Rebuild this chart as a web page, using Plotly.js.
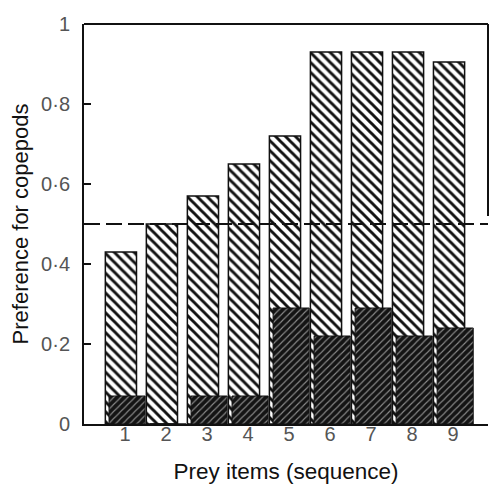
<!DOCTYPE html>
<html>
<head>
<meta charset="utf-8">
<script src="https://cdn.plot.ly/plotly-3.0.1.min.js"></script>
<style>html,body{margin:0;padding:0;background:#fff}#chart{width:491px;height:484px}</style>
</head>
<body>
<div id="chart"></div>
<script>
// Data
const preyItems = [1, 2, 3, 4, 5, 6, 7, 8, 9];
const tickLabels = ['1', '2', '3', '4', '5', '6', '7', '8', '9'];
const preferenceAll = [0.43, 0.50, 0.57, 0.65, 0.72, 0.93, 0.93, 0.93, 0.905];
const preferenceDark = [0.07, 0, 0.07, 0.07, 0.29, 0.22, 0.29, 0.22, 0.24];
const yTickVals = [0, 0.2, 0.4, 0.6, 0.8, 1];
const yTickText = ['0', '0·2', '0·4', '0·6', '0·8', '1'];
const chanceLevel = 0.5;

const font = 'Liberation Sans, Arial, Helvetica, sans-serif';

const traces = [
  {
    type: 'bar', x: preyItems, y: preferenceAll,
    width: 0.76, offset: -0.48,
    marker: {
      color: '#fff',
      line: {color: '#111', width: 1.5},
      pattern: {shape: '\\', fgcolor: '#111', bgcolor: '#fff', size: 7, solidity: 0.42}
    },
    hoverinfo: 'skip'
  },
  {
    type: 'bar', x: preyItems, y: preferenceDark,
    width: 0.88, offset: -0.39,
    marker: {
      color: '#111',
      line: {color: '#111', width: 1},
      pattern: {shape: '/', fgcolor: '#8a8a8a', bgcolor: '#141414', size: 5, solidity: 0.22}
    },
    hoverinfo: 'skip'
  }
];

const layout = {
  width: 491, height: 484,
  margin: {l: 84, r: 3, t: 24, b: 60},
  paper_bgcolor: '#fff', plot_bgcolor: '#fff',
  barmode: 'overlay',
  showlegend: false,
  font: {family: font, color: '#111'},
  xaxis: {
    range: [0, 9.85],
    tickvals: preyItems, ticktext: tickLabels,
    ticks: '', showgrid: false, zeroline: false,
    showline: true, linecolor: '#111', linewidth: 2,
    ticklabelstandoff: -9,
    automargin: true,
    tickfont: {family: font, size: 20, color: '#555'},
    title: {text: 'Prey items (sequence)', font: {family: font, size: 22.5, color: '#111'}, standoff: 21},
    fixedrange: true
  },
  yaxis: {
    range: [0, 1],
    tickvals: yTickVals, ticktext: yTickText,
    ticks: 'inside', ticklen: 7, tickwidth: 2, tickcolor: '#111',
    ticklabelstandoff: 8,
    showgrid: false, zeroline: false,
    showline: true, linecolor: '#111', linewidth: 2,
    tickfont: {family: font, size: 20, color: '#555'},
    title: {text: 'Preference for copepods', font: {family: font, size: 22, color: '#111'}, standoff: 6},
    fixedrange: true
  },
  shapes: [
    {type: 'line', xref: 'paper', yref: 'y', x0: 0, x1: 1, y0: chanceLevel, y1: chanceLevel,
     line: {color: '#111', width: 2, dash: '16px,6px'}, layer: 'above'},
    {type: 'line', xref: 'paper', yref: 'paper', x0: 0, x1: 1, y0: 1, y1: 1,
     line: {color: '#111', width: 2}},
    {type: 'line', xref: 'paper', yref: 'y', x0: 1, x1: 1, y0: 1, y1: 0.52,
     line: {color: '#111', width: 2}}
  ]
};

Plotly.newPlot('chart', traces, layout, {displayModeBar: false, staticPlot: true});
</script>
</body>
</html>
